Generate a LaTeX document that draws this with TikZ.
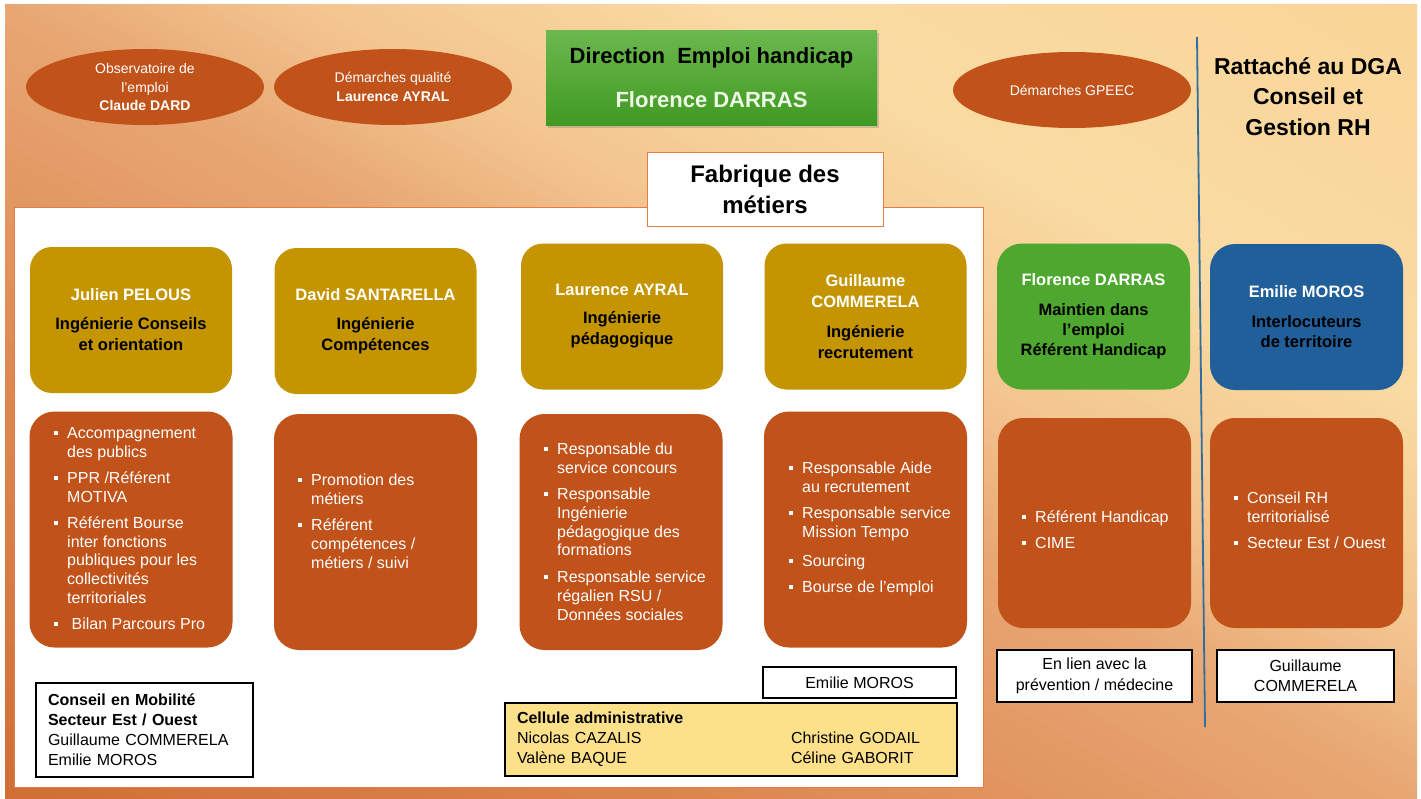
\documentclass[tikz,border=0pt]{standalone}
\usepackage{fontspec}
\setmainfont{Liberation Sans}
\usetikzlibrary{positioning,shapes.geometric,shadows}

\definecolor{rouille}{HTML}{C0521A}
\definecolor{ocre}{HTML}{C49500}
\definecolor{vert}{HTML}{4EA72E}
\definecolor{bleu}{HTML}{215F9A}
\definecolor{jaune}{HTML}{FDE08A}
\definecolor{bordorange}{HTML}{E27C48}
\definecolor{traitbleu}{HTML}{2F6E9F}
\definecolor{vhaut}{HTML}{6CB84E}
\definecolor{vbas}{HTML}{3F9A22}
\definecolor{vpale}{HTML}{EEF8E6}
% les teintes du fond
\definecolor{f0}{HTML}{D06E34}
\definecolor{f1}{HTML}{DC8750}
\definecolor{f2}{HTML}{E8A774}
\definecolor{f3}{HTML}{F3C48E}
\definecolor{f4}{HTML}{F9DBA3}
\definecolor{f5}{HTML}{FAD597}

\newcommand{\puce}{\makebox[13pt][l]{\rule[3.5pt]{4pt}{4pt}}}
\newcommand{\suite}{\hspace*{13pt}}

\begin{document}
\begin{tikzpicture}[x=1pt,y=-1pt,
	ovale/.style={ellipse, fill=rouille, minimum width=238pt, minimum height=76pt, inner sep=0pt, text=white, align=center, font=\fontsize{14}{18.5}\selectfont},
	chef/.style={rounded corners=22pt, fill=ocre, minimum width=202pt, minimum height=146pt, inner sep=0pt, align=center, font=\bfseries\fontsize{16.5}{21}\selectfont},
	pole/.style={rounded corners=25pt, minimum width=193pt, minimum height=146pt, inner sep=0pt, align=center, font=\bfseries\fontsize{16.5}{20}\selectfont},
	missions/.style={rounded corners=25pt, fill=rouille, minimum width=203pt, minimum height=236pt},
	puces/.style={anchor=west, text=white, align=left, inner sep=0pt, font=\fontsize{16}{18.7}\selectfont},
	cadre/.style={draw=black, line width=1.5pt, fill=white, inner sep=0pt, align=center, font=\fontsize{16}{20.5}\selectfont}]
	\useasboundingbox (0,0) rectangle (1421,798);
	% le fond, en bandes obliques
	\fill[white] (0,0) rectangle (1421,798);
	\begin{scope}
	\clip (5,4) rectangle (1417,798);
	\foreach \ca/\cb/\ta/\tb in {f0/f1/-5/350, f1/f2/350/692, f2/f3/692/830, f3/f4/830/1040, f4/f5/1040/1400}{
		\foreach \i in {0,...,19}{
			\pgfmathsetmacro{\ti}{\ta+(\tb-\ta)*\i/20}
			\pgfmathsetmacro{\tj}{\ta+(\tb-\ta)*(\i+1)/20+1}
			\pgfmathtruncatemacro{\p}{100*(\i+0.5)/20}
			\fill[\cb!\p!\ca] ({5+0.49*\ti-600*0.872},{798-0.872*\ti-600*0.49}) -- ({5+0.49*\ti+1400*0.872},{798-0.872*\ti+1400*0.49})
				-- ({5+0.49*\tj+1400*0.872},{798-0.872*\tj+1400*0.49}) -- ({5+0.49*\tj-600*0.872},{798-0.872*\tj-600*0.49}) -- cycle;
		}
	}
	\end{scope}
	\fill[white, draw=bordorange, line width=1pt] (14,207) rectangle (983,787);
	% la direction et les ovales
	\node[ovale] (obs) at (145,87) {Observatoire de\\l’emploi\\\textbf{Claude DARD}};
	\node[ovale] (qual) at (393,87) {Démarches qualité\\\textbf{Laurence AYRAL}};
	\node[ovale] (gpeec) at (1072,90) {Démarches GPEEC};
	\node[minimum width=331pt, minimum height=95pt, inner sep=0pt, top color=vhaut, bottom color=vbas,
		drop shadow={opacity=0.35, shadow xshift=2pt, shadow yshift=-3pt}, align=center,
		font=\bfseries\fontsize{22}{26}\selectfont] (dir) at (711.5,77.5)
		{Direction\ \ Emploi handicap\\[18pt]\textcolor{vpale}{Florence DARRAS}};
	\node[draw=bordorange, line width=1pt, fill=white, minimum width=236pt, minimum height=74pt, inner sep=0pt,
		align=center, font=\bfseries\fontsize{24}{31}\selectfont] (fab) at (765,189) {Fabrique des\\métiers};
	\node[align=center, font=\bfseries\fontsize{23}{30.5}\selectfont] (dga) at (1308,96.5) {Rattaché au DGA\\Conseil et\\Gestion RH};
	\coordinate (hautsep) at (1197,37);
	\coordinate (bassep) at (1205,727);
	\draw[traitbleu, line width=1.8pt] (hautsep) -- (bassep);
	% les responsables
	\node[chef] (c1) at (131,320) {\textcolor{white}{Julien PELOUS}\\[8pt]Ingénierie Conseils\\et orientation};
	\node[chef] (c2) at (375.5,321) {\textcolor{white}{David SANTARELLA}\\[8pt]Ingénierie\\Compétences};
	\node[chef] (c3) at (622,316.5) {\textcolor{white}{Laurence AYRAL}\\[7pt]Ingénierie\\pédagogique};
	\node[chef] (c4) at (865.5,316.5) {\textcolor{white}{Guillaume}\\\textcolor{white}{COMMERELA}\\[9pt]Ingénierie\\recrutement};
	\node[pole, fill=vert] (c5) at (1093.5,316.5) {\textcolor{white}{Florence DARRAS}\\[10pt]Maintien dans\\l’emploi\\Référent Handicap};
	\node[pole, fill=bleu] (c6) at (1306.5,317) {\textcolor{white}{Emilie MOROS}\\[10pt]Interlocuteurs\\de territoire};
	% les missions
	\node[missions] (m1) at (131,529.5) {};
	\node[missions] (m2) at (375.5,532) {};
	\node[missions] (m3) at (621,532) {};
	\node[missions] (m4) at (865.5,529.5) {};
	\node[missions, minimum width=193pt, minimum height=210pt] (m5) at (1094.5,523) {};
	\node[missions, minimum width=193pt, minimum height=210pt] (m6) at (1306.5,523) {};
	\node[puces] (l1) at (54,528.5) {\puce Accompagnement\\\suite des publics\\[7.5pt]\puce PPR /Référent\\\suite MOTIVA\\[7.5pt]\puce Référent Bourse\\\suite inter fonctions\\\suite publiques pour les\\\suite collectivités\\\suite territoriales\\[7.5pt]\puce\ Bilan Parcours Pro};
	\node[puces] (l2) at (298,521) {\puce Promotion des\\\suite métiers\\[8pt]\puce Référent\\\suite compétences /\\\suite métiers / suivi};
	\node[puces] (l3) at (544,531.5) {\puce Responsable du\\\suite service concours\\[8pt]\puce Responsable\\\suite Ingénierie\\\suite pédagogique des\\\suite formations\\[8pt]\puce Responsable service\\\suite régalien RSU /\\\suite Données sociales};
	\node[puces] (l4) at (789,529) {\puce Responsable Aide\\\suite au recrutement\\[8pt]\puce Responsable service\\\suite Mission Tempo\\[10pt]\puce Sourcing\\[8pt]\puce Bourse de l’emploi};
	\node[puces] (l5) at (1022,530) {\puce Référent Handicap\\[7.5pt]\puce CIME};
	\node[puces] (l6) at (1234,520.5) {\puce Conseil RH\\\suite territorialisé\\[7.5pt]\puce Secteur Est / Ouest};
	% les cadres du bas
	\node[cadre, minimum width=195pt, minimum height=52pt] (lien) at (1094.5,676) {En lien avec la\\prévention / médecine};
	\node[cadre, minimum width=177pt, minimum height=52pt] (guil) at (1305.5,676) {Guillaume\\COMMERELA};
	\node[cadre, minimum height=94pt, inner xsep=12pt, text width=193pt, align=left, font=\fontsize{16}{20}\selectfont] (mob) at (144.5,730)
		{\textbf{Conseil en Mobilité}\\\textbf{Secteur Est / Ouest}\\Guillaume COMMERELA\\Emilie MOROS};
	\node[cadre, minimum width=193pt, minimum height=31pt] (emi) at (859.5,682.5) {Emilie MOROS};
	\node[cadre, fill=jaune, minimum height=73pt, inner xsep=12pt, text width=428pt, align=left, font=\fontsize{16}{20}\selectfont] (cel) at (731,739.5)
		{\begin{tabular}{@{}p{274pt}@{}l@{}}\textbf{Cellule administrative} & \\ Nicolas CAZALIS & Christine GODAIL\\ Valène BAQUE & Céline GABORIT\end{tabular}};
\end{tikzpicture}
\end{document}
